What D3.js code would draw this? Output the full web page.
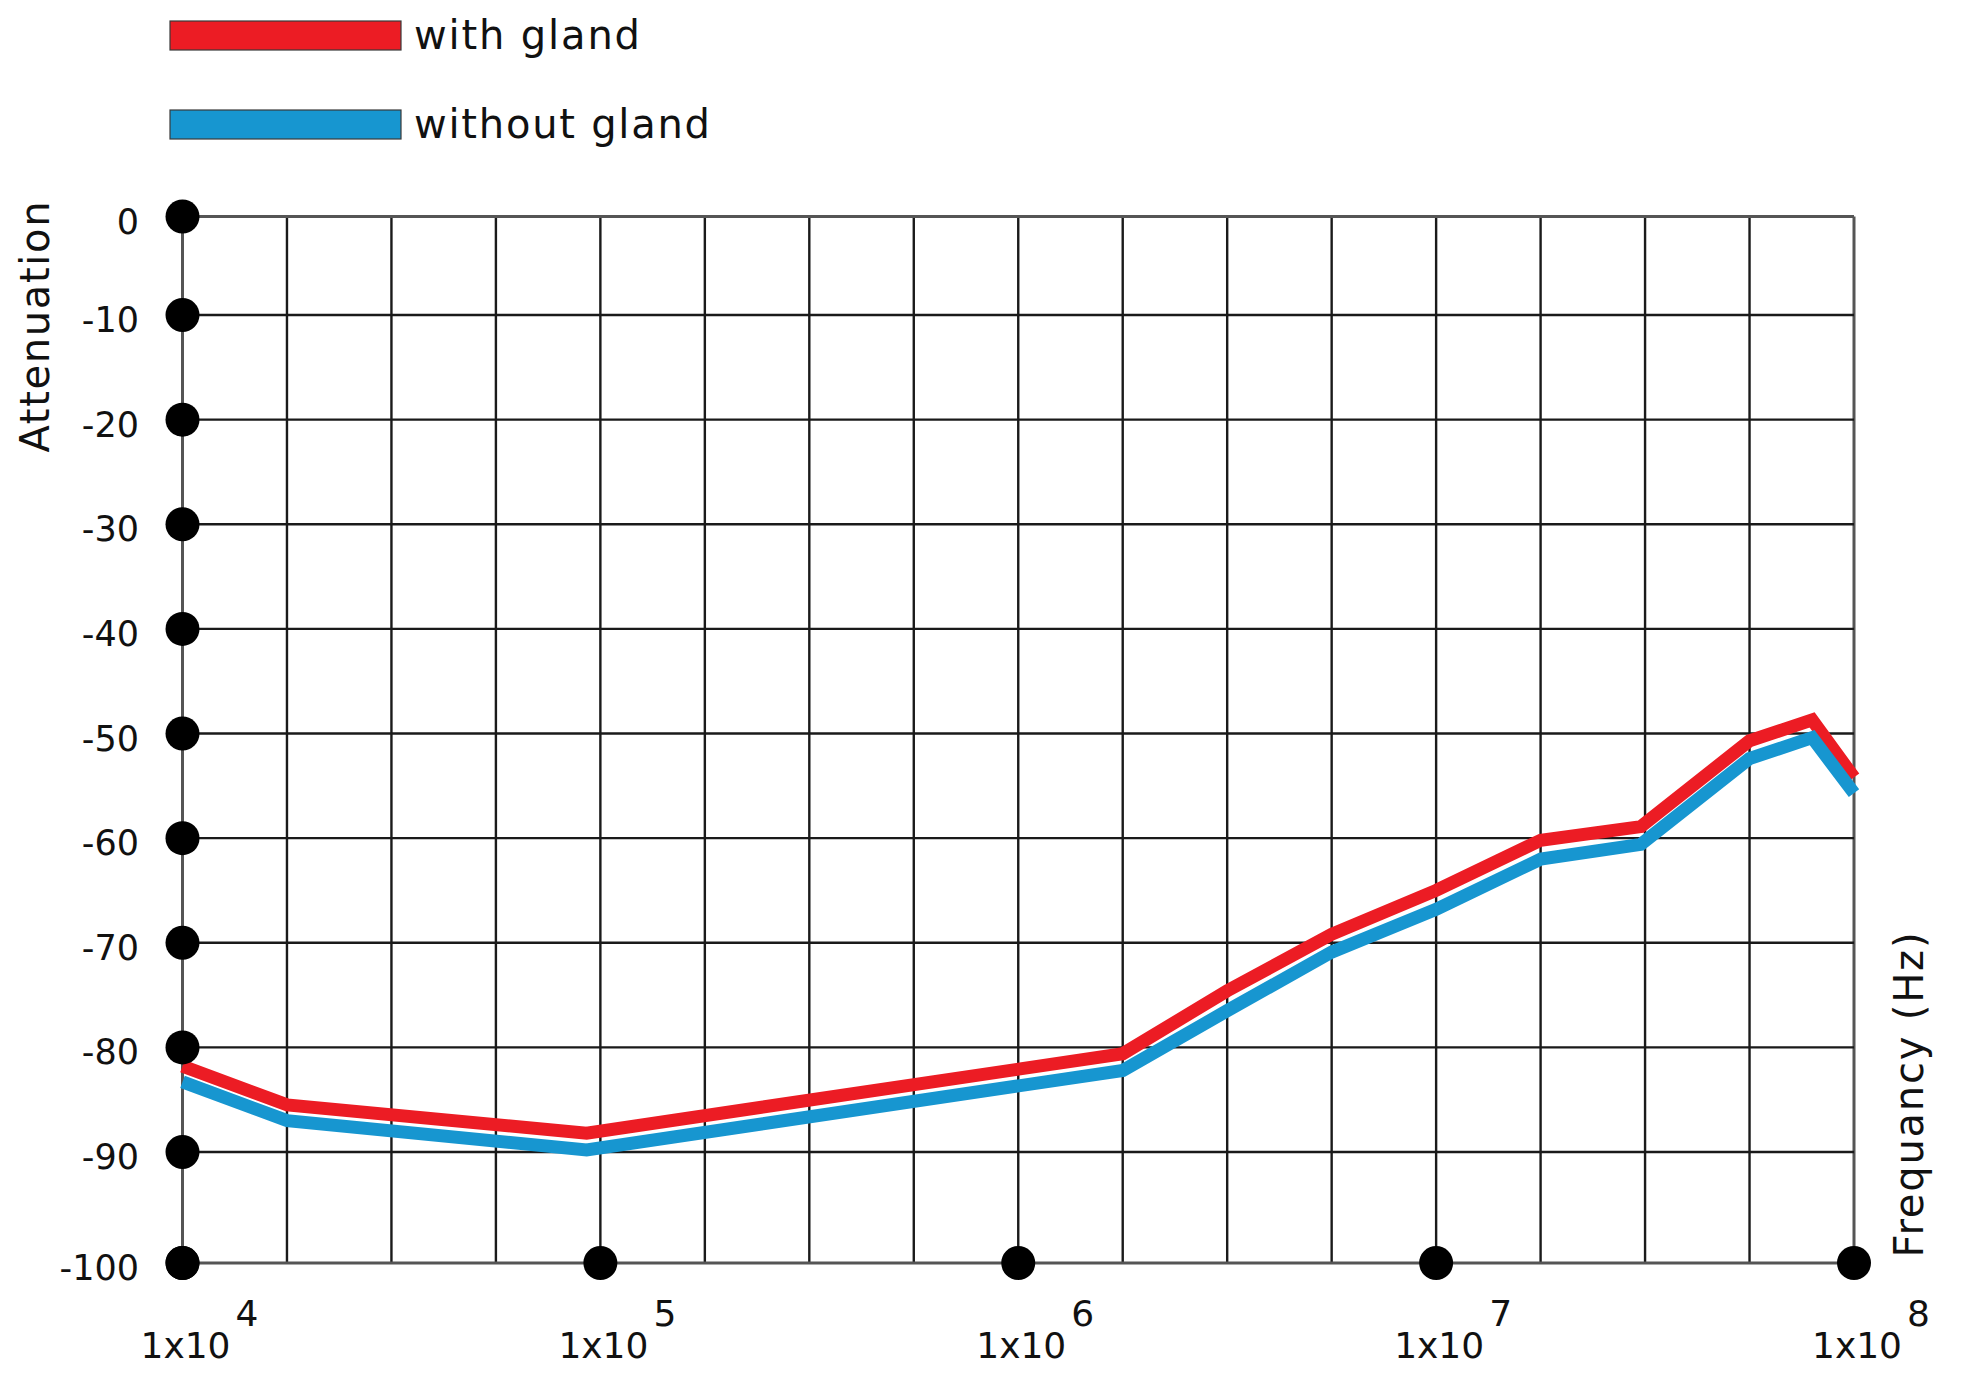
<!DOCTYPE html>
<html>
<head>
<meta charset="utf-8">
<script src="https://cdn.jsdelivr.net/npm/d3@7"></script>
<style>
  html, body { margin: 0; padding: 0; background: #fff; }
  svg { display: block; }
  text { font-family: "DejaVu Sans", sans-serif; fill: #111; }
</style>
</head>
<body>
<script>
// ---- data ----
const freqs        = [1e4, 1.78e4, 9.27e4, 1.78e6, 3.16e6, 5.62e6, 1e7, 1.78e7, 3.09e7, 5.62e7, 7.94e7, 1e8];
const withGland    = [-81.8, -85.5, -88.2, -80.6, -74.6, -69.2, -65.0, -60.2, -58.9, -50.7, -48.7, -54.2];
const withoutGland = [-83.3, -87.0, -89.8, -82.2, -76.5, -70.9, -66.8, -62.0, -60.6, -52.4, -50.4, -55.7];
const yTicks = [0, -10, -20, -30, -40, -50, -60, -70, -80, -90, -100];
const xDecades = [4, 5, 6, 7, 8];
const xGridExponents = d3.range(4, 8.0001, 0.25);
const seriesNames = ["with gland", "without gland"];
const xTitle = "Frequancy (Hz)";
const yTitle = "Attenuation";

// ---- layout ----
const W = 1963, H = 1382;
const colors = ["#ec1c24", "#1796d0"];

const svg = d3.select("body").append("svg").attr("width", W).attr("height", H);
svg.append("rect").attr("width", W).attr("height", H).attr("fill", "#fff");

const x = d3.scaleLog().domain([1e4, 1e8]).range([182.5, 1854]);
// the original grid is slightly uneven at its outer rows
const y = d3.scaleLinear().domain([0, -10, -90, -100]).range([216.5, 315, 1152, 1263]);

// grid
const grid = svg.append("g");
grid.selectAll("line.v").data(xGridExponents).join("line")
  .attr("x1", d => x(Math.pow(10, d))).attr("x2", d => x(Math.pow(10, d)))
  .attr("y1", y(0)).attr("y2", y(-100))
  .attr("stroke", (d, i) => (i === 0 || i === xGridExponents.length - 1) ? "#555" : "#1a1a1a")
  .attr("stroke-width", (d, i) => (i === 0 || i === xGridExponents.length - 1) ? 3 : 2.4);
grid.selectAll("line.h").data(yTicks).join("line")
  .attr("x1", x(1e4)).attr("x2", x(1e8))
  .attr("y1", d => y(d)).attr("y2", d => y(d))
  .attr("stroke", (d, i) => (i === 0 || i === yTicks.length - 1) ? "#555" : "#1a1a1a")
  .attr("stroke-width", (d, i) => (i === 0 || i === yTicks.length - 1) ? 3 : 2.4);

// series lines
const series = [withGland, withoutGland];
const line = d3.line().x(d => x(d[0])).y(d => y(d[1])).curve(d3.curveLinear);
series.forEach((vals, si) => {
  svg.append("path")
    .datum(freqs.map((f, i) => [f, vals[i]]))
    .attr("d", line)
    .attr("fill", "none")
    .attr("stroke", colors[si])
    .attr("stroke-width", 13)
    .attr("stroke-linejoin", "miter")
    .attr("stroke-linecap", "butt");
});

// axis dots
svg.append("g").selectAll("circle").data(yTicks).join("circle")
  .attr("cx", x(1e4)).attr("cy", d => y(d)).attr("r", 17).attr("fill", "#000");
svg.append("g").selectAll("circle").data(xDecades).join("circle")
  .attr("cx", d => x(Math.pow(10, d))).attr("cy", y(-100)).attr("r", 17).attr("fill", "#000");

// y tick labels
svg.append("g").selectAll("text").data(yTicks).join("text")
  .attr("x", 139).attr("y", d => y(d) + 17)
  .attr("text-anchor", "end")
  .attr("font-size", 35)
  .text(d => d);

// x tick labels
const xl = svg.append("g").selectAll("text").data(xDecades).join("text")
  .attr("x", d => x(Math.pow(10, d)) - 42)
  .attr("y", y(-100) + 95)
  .attr("font-size", 36);
xl.append("tspan").text("1x10");
xl.append("tspan").attr("dx", 5).attr("dy", -32).text(d => d);

// axis titles
svg.append("text")
  .attr("transform", `translate(49, 327) rotate(-90)`)
  .attr("text-anchor", "middle")
  .attr("font-size", 40)
  .attr("textLength", 251).attr("lengthAdjust", "spacing")
  .text(yTitle);
svg.append("text")
  .attr("transform", `translate(1923, 1095) rotate(-90)`)
  .attr("text-anchor", "middle")
  .attr("font-size", 40)
  .attr("textLength", 325).attr("lengthAdjust", "spacing")
  .text(xTitle);

// legend
const legY = [21, 110];
const leg = svg.append("g").selectAll("g").data(seriesNames).join("g");
leg.append("rect")
  .attr("x", 170).attr("y", (d, i) => legY[i])
  .attr("width", 231).attr("height", 29)
  .attr("fill", (d, i) => colors[i])
  .attr("stroke", "#3a3a3a").attr("stroke-width", 1.2);
leg.append("text")
  .attr("x", 414).attr("y", (d, i) => legY[i] + 28)
  .attr("font-size", 40)
  .attr("textLength", (d, i) => i === 0 ? 226 : 296).attr("lengthAdjust", "spacing")
  .text(d => d);
</script>
</body>
</html>
